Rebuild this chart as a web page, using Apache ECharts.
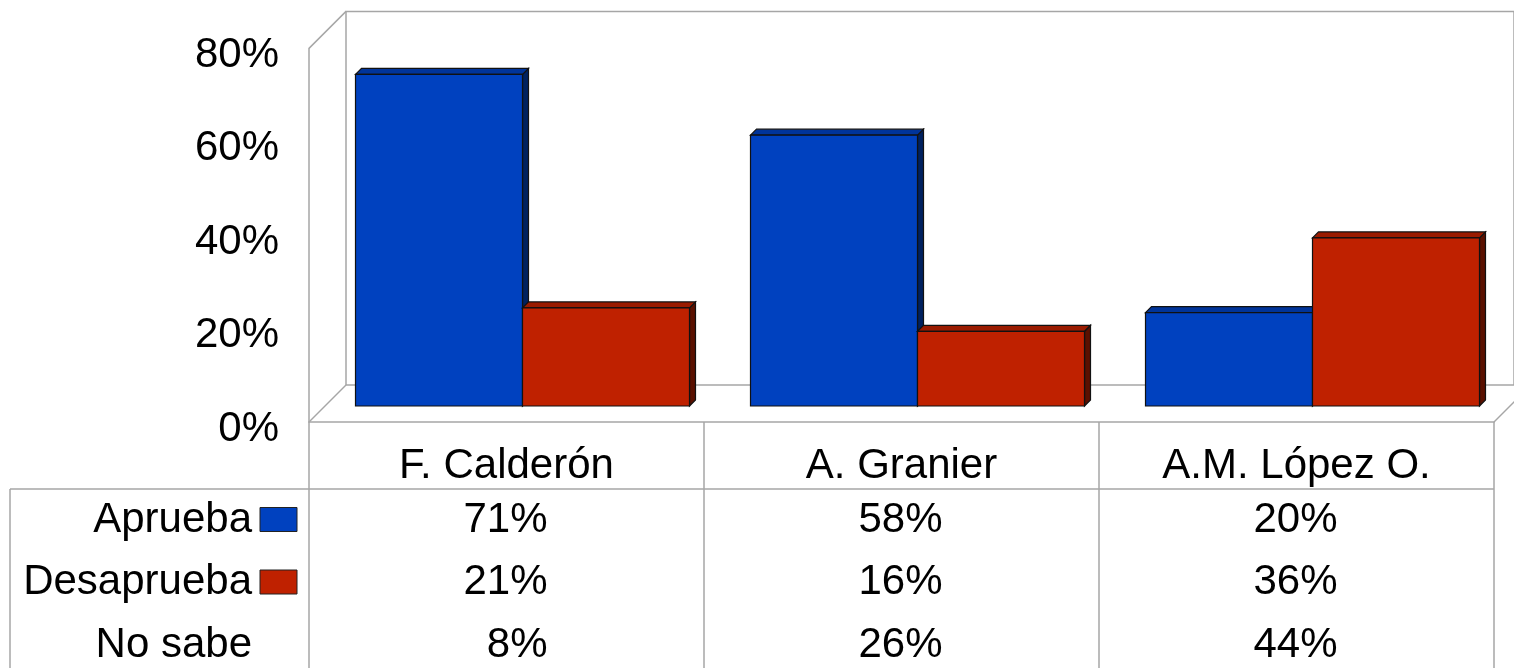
<!DOCTYPE html>
<html>
<head>
<meta charset="utf-8">
<script src="https://cdn.jsdelivr.net/npm/echarts@6/dist/echarts.min.js"></script>
<style>
  html, body { margin: 0; padding: 0; background: #fff; }
  #chart { width: 1514px; height: 668px; }
</style>
</head>
<body>
<div id="chart"></div>
<script>
// data
const categories = ['F. Calderón', 'A. Granier', 'A.M. López O.'];
const aprueba = [71, 58, 20];
const desaprueba = [21, 16, 36];
const noSabe = [8, 26, 44];
const rowNames = ['Aprueba', 'Desaprueba', 'No sabe'];
const yTicks = [0, 20, 40, 60, 80];

const FONT = '"Liberation Sans", Arial, sans-serif';
const LINE = '#a6a6a6';
const BLUE = { front: '#0041bf', top: '#00349a', side: '#00215f' };
const RED = { front: '#bf2100', top: '#9a1b00', side: '#5a1000' };

// frame geometry: front plane, bars plane, back wall (3D depth offset)
const FRONT_LEFT = 309, PLOT_W = 1185, FRONT_TOP = 48.4, PLOT_H = 373.6;
const DEPTH = 37, BAR_SHIFT = 16, BAR_DEPTH = 6, BAR_RATIO = 167 / 395;

const chart = echarts.init(document.getElementById('chart'));

function bar3d(side, colors) {
  return function (params, api) {
    const top = api.coord([api.value(0), api.value(1)]);
    const base = api.coord([api.value(0), 0]);
    const w = api.size([1, 0])[0] * BAR_RATIO;
    const x0 = side < 0 ? top[0] - w : top[0];
    const y = top[1], yb = base[1], d = BAR_DEPTH;
    const edge = { stroke: '#111', lineWidth: 1.2 };
    return {
      type: 'group',
      children: [
        { type: 'polygon', shape: { points: [[x0 + w, y], [x0 + w + d, y - d], [x0 + w + d, yb - d], [x0 + w, yb]] },
          style: Object.assign({ fill: colors.side }, edge) },
        { type: 'polygon', shape: { points: [[x0, y], [x0 + d, y - d], [x0 + w + d, y - d], [x0 + w, y]] },
          style: Object.assign({ fill: colors.top }, edge) },
        { type: 'rect', shape: { x: x0, y: y, width: w, height: yb - y },
          style: Object.assign({ fill: colors.front }, edge) }
      ]
    };
  };
}

const hiddenCat = { type: 'category', data: categories, show: false };
const hiddenVal = { type: 'value', min: 0, max: 80, show: false };

chart.setOption({
  animation: false,
  grid: [
    { left: FRONT_LEFT + DEPTH, top: FRONT_TOP - DEPTH, width: PLOT_W, height: PLOT_H,
      show: true, borderColor: LINE, borderWidth: 1.5, backgroundColor: 'transparent' },
    { left: FRONT_LEFT + BAR_SHIFT, top: FRONT_TOP - BAR_SHIFT, width: PLOT_W, height: PLOT_H },
    { left: FRONT_LEFT, top: FRONT_TOP, width: PLOT_W, height: PLOT_H }
  ],
  xAxis: [
    Object.assign({ gridIndex: 0 }, hiddenCat),
    Object.assign({ gridIndex: 1 }, hiddenCat),
    {
      gridIndex: 2, type: 'category', data: categories,
      axisLine: { lineStyle: { color: LINE, width: 1.5 } },
      axisTick: { show: true, length: 246, lineStyle: { color: LINE, width: 1.5 } },
      axisLabel: { color: '#000', fontFamily: FONT, fontSize: 42, margin: 22, lineHeight: 44 }
    }
  ],
  yAxis: [
    Object.assign({ gridIndex: 0 }, hiddenVal),
    Object.assign({ gridIndex: 1 }, hiddenVal),
    {
      gridIndex: 2, type: 'value', min: yTicks[0], max: yTicks[yTicks.length - 1], interval: 20,
      splitLine: { show: false }, axisTick: { show: false },
      axisLine: { show: true, lineStyle: { color: LINE, width: 1.5 } },
      axisLabel: { color: '#000', fontFamily: FONT, fontSize: 42, margin: 30,
        verticalAlign: 'top', lineHeight: 14, formatter: '{value}%' }
    }
  ],
  series: [
    { name: rowNames[0], type: 'custom', xAxisIndex: 1, yAxisIndex: 1,
      renderItem: bar3d(-1, BLUE), data: aprueba.map((v, i) => [i, v]) },
    { name: rowNames[1], type: 'custom', xAxisIndex: 1, yAxisIndex: 1,
      renderItem: bar3d(1, RED), data: desaprueba.map((v, i) => [i, v]) }
  ]
});

// frame diagonals and table lines, plus the data table text
const x0 = FRONT_LEFT, xb = FRONT_LEFT + DEPTH;
const yFloor = FRONT_TOP + PLOT_H, yTop = FRONT_TOP;
const lineStyle = { stroke: LINE, lineWidth: 1.5 };
const graphics = [
  { type: 'line', shape: { x1: x0, y1: yTop, x2: xb, y2: yTop - DEPTH }, style: lineStyle },
  { type: 'line', shape: { x1: x0, y1: yFloor, x2: xb, y2: yFloor - DEPTH }, style: lineStyle },
  { type: 'line', shape: { x1: x0 + PLOT_W, y1: yFloor, x2: xb + PLOT_W, y2: yFloor - DEPTH }, style: lineStyle },
  { type: 'line', shape: { x1: 10, y1: 489, x2: x0 + PLOT_W, y2: 489 }, style: lineStyle },
  { type: 'line', shape: { x1: 10, y1: 489, x2: 10, y2: 668 }, style: lineStyle }
];

const rowY = [520, 582.5, 645];
const rows = [aprueba, desaprueba, noSabe];
const rowColors = [BLUE.front, RED.front, null];
const textStyle = { fill: '#000', font: '42px ' + FONT, textVerticalAlign: 'middle' };

rowNames.forEach((name, r) => {
  graphics.push({ type: 'text', x: 252, y: rowY[r],
    style: Object.assign({ text: name, textAlign: 'right' }, textStyle) });
  if (rowColors[r]) {
    graphics.push({ type: 'rect', shape: { x: 260, y: rowY[r] - 12.5, width: 37, height: 24 },
      style: { fill: rowColors[r], stroke: '#222', lineWidth: 1 } });
  }
  categories.forEach((c, i) => {
    const cx = chart.convertToPixel({ xAxisIndex: 2 }, c);
    graphics.push({ type: 'text', x: cx + 41, y: rowY[r],
      style: Object.assign({ text: rows[r][i] + '%', textAlign: 'right' }, textStyle) });
  });
});

chart.setOption({ graphic: graphics });
</script>
</body>
</html>
